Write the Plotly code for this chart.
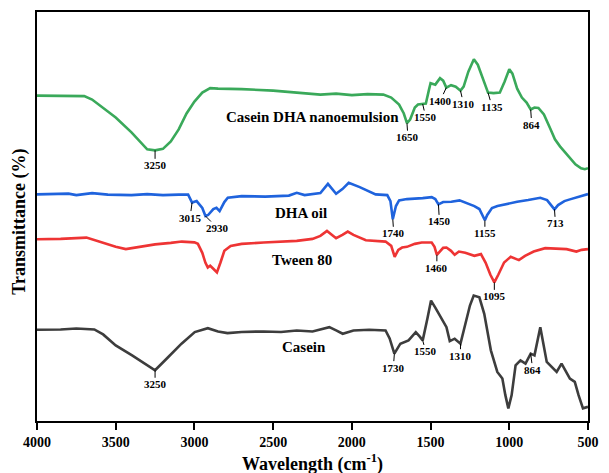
import numpy as np
import plotly.graph_objects as go

# FTIR spectra, stacked with vertical offsets (arbitrary transmittance units)
wn_nano = [4000, 3700, 3650, 3600, 3500, 3400, 3330, 3300, 3250, 3200, 3150, 3100, 3050, 3000,
           2950, 2900, 2850, 2700, 2500, 2300, 2200, 2100, 2000, 1900, 1800, 1750, 1700, 1670,
           1650, 1630, 1600, 1580, 1550, 1530, 1510, 1500, 1470, 1440, 1420, 1400, 1370, 1340,
           1310, 1290, 1260, 1225, 1200, 1170, 1145, 1135, 1100, 1060, 1030, 1000, 980, 950,
           920, 890, 864, 840, 815, 780, 740, 710, 678, 650, 615, 580, 544, 520, 500]
t_nano = [327, 326.5, 323, 317, 305, 290, 278, 273, 272, 273.5, 281, 293, 309, 321,
          330, 334.5, 334, 333.5, 332, 329, 328, 329, 327.5, 328.5, 328, 325, 318, 309,
          299.3, 303, 315, 318, 318.5, 319, 333, 339.5, 338, 344.5, 342, 335, 337.5, 336,
          332, 336, 351, 363.5, 358, 346, 335, 330, 329.5, 330, 341, 353.5, 349, 334,
          325, 320, 313, 315, 314.5, 308, 294, 283, 276, 271, 264, 258, 254, 253, 254]

wn_dha = [4000, 3900, 3800, 3750, 3650, 3550, 3400, 3300, 3200, 3100, 3040, 3015, 2986, 2950,
          2930, 2913, 2880, 2860, 2840, 2810, 2788, 2700, 2550, 2400, 2350, 2300, 2200, 2152,
          2120, 2100, 2060, 2020, 1950, 1900, 1849, 1775, 1755, 1740, 1720, 1700, 1650, 1550,
          1493, 1470, 1450, 1420, 1368, 1316, 1270, 1222, 1190, 1155, 1140, 1110, 1075, 1000,
          950, 880, 803, 760, 713, 690, 650, 615, 560, 511, 500]
t_dha = [227.7, 228, 228.5, 227, 229, 227.5, 227, 228, 227, 227.5, 227.5, 219.5, 221, 214,
         206, 207, 213, 214.3, 211, 220, 224.3, 226, 225.5, 226.5, 229.3, 227, 229, 238.3,
         232, 228.3, 233, 239.3, 235, 231, 227.7, 227, 221, 202.7, 216, 221.7, 223, 224,
         225, 223, 217.7, 220, 220.3, 221.7, 219, 216, 213, 201.7, 207, 214, 216, 219,
         220.3, 222, 224.3, 222, 212.7, 217, 221, 222.7, 225, 227.7, 228]

wn_tween = [4000, 3850, 3686, 3600, 3500, 3436, 3350, 3250, 3150, 3080, 3000, 2978, 2950, 2930,
            2915, 2900, 2880, 2857, 2835, 2810, 2770, 2700, 2560, 2350, 2250, 2200, 2158, 2100,
            2060, 2026, 1990, 1911, 1786, 1750, 1728, 1705, 1681, 1650, 1600, 1556, 1493, 1475,
            1460, 1440, 1420, 1399, 1370, 1347, 1320, 1280, 1240, 1222, 1180, 1150, 1120, 1095,
            1070, 1040, 1033, 991, 960, 939, 900, 845, 772, 700, 636, 574, 540, 500]
t_tween = [182.7, 183, 184.3, 180, 175, 172.7, 175, 177.5, 179, 180.3, 179.5, 178, 169, 159,
           154.3, 156, 153, 149.3, 159, 171, 176, 178, 179.3, 181, 183, 186, 191, 183.7,
           187, 190.3, 187, 181.7, 180.3, 176, 165, 172, 174.3, 175, 178, 179.3, 179.3, 175,
           167, 171, 174, 174.3, 171, 167, 170.3, 169, 167, 166, 167.7, 159, 147, 139.3,
           147, 158, 159.3, 165, 163, 161.7, 166, 170.3, 173.7, 173, 172.7, 170.3, 172, 172.7]

wn_casein = [4000, 3850, 3750, 3636, 3580, 3500, 3396, 3312, 3250, 3166, 3082, 2998, 2960, 2915,
             2850, 2790, 2700, 2560, 2450, 2350, 2250, 2143, 2100, 2058, 1990, 1890, 1786, 1760,
             1730, 1692, 1640, 1594, 1570, 1550, 1520, 1497, 1470, 1452, 1399, 1378, 1347, 1310,
             1280, 1250, 1226, 1190, 1159, 1117, 1076, 1044, 1025, 1006, 985, 960, 929, 897,
             864, 840, 803, 775, 762, 699, 668, 615, 584, 560, 532, 500]
t_casein = [91.7, 92, 93, 92, 87, 76, 66, 57.7, 51, 64.3, 77.7, 89.3, 91, 93.3,
            90, 88.3, 89.5, 90, 89.5, 91, 90, 94.3, 91, 87.7, 91, 91.7, 91, 83,
            67.7, 77.7, 81, 89.3, 85, 81, 103, 121, 114, 109.3, 94.3, 80.3, 82.7, 77.7,
            96, 116, 126, 124.3, 107.7, 71, 49.3, 42.7, 26, 12.7, 26, 56, 61, 57.7,
            67.7, 66, 94.3, 71, 59.3, 49.3, 57.7, 42.7, 39.3, 26, 12.7, 14.3]

# Peak assignments (cm-1) for each spectrum
peaks_nano = [3250, 1650, 1550, 1400, 1310, 1135, 864]
peaks_dha = [3015, 2930, 1740, 1450, 1155, 713]
peaks_tween = [1460, 1095]
peaks_casein = [3250, 1730, 1550, 1310, 864]

names = ["Casein DHA nanoemulsion", "DHA oil", "Tween 80", "Casein"]
x_ticks = [4000, 3500, 3000, 2500, 2000, 1500, 1000, 500]

series = [
    (wn_nano, t_nano, peaks_nano, "#3aa95a"),
    (wn_dha, t_dha, peaks_dha, "#1f63dd"),
    (wn_tween, t_tween, peaks_tween, "#ee3434"),
    (wn_casein, t_casein, peaks_casein, "#3d3d3d"),
]

# label offsets (pixels) of each peak label from its point on the curve
label_offsets = {
    ("nano", 3250): (0, 15), ("nano", 1650): (1, 14), ("nano", 1550): (3, 13),
    ("nano", 1400): (-6, 13), ("nano", 1310): (3, 13), ("nano", 1135): (4, 14),
    ("nano", 864): (1, 15),
    ("dha", 3015): (-2, 15), ("dha", 2930): (12, 12), ("dha", 1740): (1, 14),
    ("dha", 1450): (1, 17), ("dha", 1155): (0, 13), ("dha", 713): (1, 14),
    ("tween", 1460): (0, 13), ("tween", 1095): (0, 14),
    ("casein", 3250): (0, 14), ("casein", 1730): (-1, 14), ("casein", 1550): (3, 11),
    ("casein", 1310): (0, 12), ("casein", 864): (2, 16),
}
keys = ["nano", "dha", "tween", "casein"]

# name label anchor positions (data coordinates)
name_pos = [(2250, 305), (2325, 209), (2316, 162), (2307, 74)]

FONT = "Liberation Serif"

fig = go.Figure()
annotations = []
for key, name, (wn, t, peaks, color), (nx, ny) in zip(keys, names, series, name_pos):
    fig.add_trace(go.Scatter(x=wn, y=t, mode="lines", name=name,
                             line=dict(color=color, width=2.6), showlegend=False))
    xs = np.array(wn[::-1], dtype=float)
    ys = np.array(t[::-1], dtype=float)
    for p in peaks:
        yv = float(np.interp(p, xs, ys))
        ax, ay = label_offsets[(key, p)]
        annotations.append(dict(x=p, y=yv, xref="x", yref="y", text=str(p),
                                showarrow=True, arrowhead=0, arrowwidth=1,
                                arrowcolor="black", ax=ax, ay=ay,
                                font=dict(family=FONT, size=11, color="black", weight="bold"),
                                borderpad=0))
    annotations.append(dict(x=nx, y=ny, xref="x", yref="y", text=name, showarrow=False,
                            font=dict(family=FONT, size=15, color="black", weight="bold")))

annotations.append(dict(x=0.5, y=-0.102, xref="paper", yref="paper",
                        text="Wavelength (cm<sup>-1</sup>)", showarrow=False,
                        xanchor="center", yanchor="middle",
                        font=dict(family=FONT, size=18, color="black", weight="bold")))
annotations.append(dict(x=-0.031, y=0.487, xref="paper", yref="paper",
                        text="Transmittance (%)", showarrow=False, textangle=-90,
                        xanchor="center", yanchor="middle",
                        font=dict(family=FONT, size=18, color="black", weight="bold")))

fig.update_layout(
    width=609, height=473,
    margin=dict(l=37, r=14, t=10, b=52),
    paper_bgcolor="white", plot_bgcolor="white",
    annotations=annotations,
    xaxis=dict(range=[4000, 500], tickvals=x_ticks, ticktext=[str(v) for v in x_ticks],
               ticks="outside", ticklen=7, tickwidth=1.5, tickcolor="black",
               showline=True, linewidth=2, linecolor="black", mirror=True,
               showgrid=False, zeroline=False,
               tickfont=dict(family=FONT, size=14, color="black", weight="bold")),
    yaxis=dict(range=[0, 411], showticklabels=False, ticks="",
               showline=True, linewidth=2, linecolor="black", mirror=True,
               showgrid=False, zeroline=False),
)

fig.write_html("out.html")
